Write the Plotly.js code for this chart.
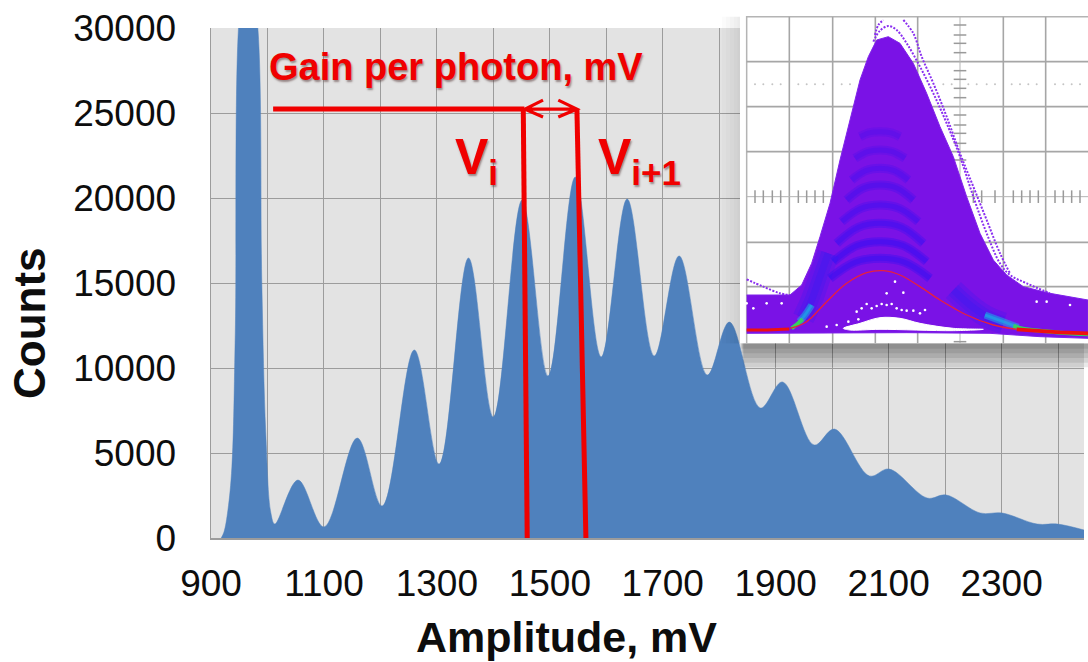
<!DOCTYPE html>
<html><head><meta charset="utf-8">
<script src="https://cdn.plot.ly/plotly-3.0.1.min.js"></script>
<style>html,body{margin:0;padding:0;background:#fff}#c{width:1088px;height:662px}</style>
</head><body><div id="c"></div>
<script>
// Spectrum
const amplitude=[918,923,930,937,943,951,967,983,990,997,1006,1013,1054,1100,1159,1203,1260,1304,1356,1400,1451,1497,1545,1591,1637,1685,1729,1779,1818,1873,1912,1968,2004,2066,2101,2168,2202,2262,2301,2363,2399,2446];
const counts=[0,350,1650,4180,12060,31060,34000,30000,15000,6180,1470,820,3410,650,5880,1880,11060,4350,16470,7120,19880,9530,21230,10650,19940,10710,16590,9590,12700,7650,9180,5470,6410,3650,4060,2350,2530,1470,1470,820,820,470];
// Annotation lines, in mV and counts
const gainLineX=[1010,1455], gainLineY=[25230,25230];
const viLineX=[1453,1460], viLineY=[25230,-100];
const vi1LineX=[1548,1564], vi1LineY=[25230,-100];
const arrowX=[1488,1456,1488,null,1456,1547,null,1515,1548,1515];
const arrowY=[25760,25230,24760,null,25230,25230,null,25760,25230,24760];
// Oscilloscope inset, in screen-grid units
const scopeGridX=[148,278,406,533,790,917], scopeGridY=[185,320,455,727,860,995];
const scopeLeft=20, scopeRight=1044, scopeTop=50, scopeBottom=1030, scopeCx=660, scopeCy=590;
const frameLeft=0, frameTop=18;
const scopeTicksY=[75,105,130,158,212,238,265,293,345,375,400,430,480,1025];
const scopeTicksX=[45,70,97,122,175,200,225,250,305,330,700,725,765,820,845,870,895,945,970,995,1020];
const scopeDotsX=[45,70,97,122,175,200,225,250,305,330,610,635,685,710,740,765,815,840,865,890,945,970,995,1020];
const blobX=[20,100,150,185,215,240,270,300,330,360,385,410,445,480,520,560,600,640,680,720,760,800,850,930,1044,1044,900,750,500,150,20];
const blobY=[885,885,885,855,790,710,610,480,360,240,170,120,110,130,190,280,380,470,590,700,780,825,860,880,900,1015,1010,1000,998,1000,1000];
const outlineAX=[400,420,445,470,500,540,580,620,660,700,740,780,810,860,930];
const outlineAY=[125,92,78,90,130,200,280,370,470,590,700,790,825,850,880];
const outlineBX=[490,520,545,580,620,660,700,740,780,810];
const outlineBY=[60,100,170,250,350,460,560,660,760,820];
const outlineCX=[405,415,430];
const outlineCY=[105,75,60];
const outlineDX=[20,70,120,150];
const outlineDY=[838,860,880,885];
const bandCentreX=[420,420,420,420,420,420,420,420];
const bandPeakY=[395,450,505,555,615,670,725,775];
const bandHalfWidth=[60,75,85,100,115,130,140,150];
const bandDrop=[15,25,35,45,50,60,60,60];
const footLeftX=[190,215,240,265], footLeftY=[955,900,830,760];
const footRightX=[640,690,740,790], footRightY=[870,915,950,970];
const cyanLeftX=[178,195,215], cyanLeftY=[965,945,915];
const cyanRightX=[735,790,835], cyanRightY=[945,965,982];
const greenLeftX=[155,172,188], greenLeftY=[985,972,958];
const greenRightX=[820,860,900,960,1044], greenRightY=[978,988,992,998,1003];
const avgX=[150,200,260,320,380,430,480,540,600,680,760,830];
const avgY=[985,965,905,850,818,812,825,860,900,945,975,988];
const baseRX=[830,900,960,1044], baseRY=[988,993,997,1000];
const baseLX=[20,80,148], baseLY=[990,990,987];
const gapX=[310,360,420,480,540,640,730,640,420,330,310];
const gapY=[985,970,953,955,970,985,988,992,988,990,985];
const specksX=[350,365,380,395,410,425,440,455,470,485,500,520,540,20,40,80,125,890,920,990,440,490,465,555,260,290,325,355];
const specksY=[935,925,912,925,918,912,915,912,925,930,932,932,940,910,925,910,910,905,905,915,880,878,845,930,980,975,965,958];
// Drop shadow growth around the inset
const shadowLeft=[54,42,30,18,8], shadowBottom=[72,58,44,30,16];

const RED='#f00000', AXIS='#9c9c9c', TXT='#0d0d0d';
const FONT='"Liberation Sans", Arial, sans-serif';
const S={xaxis:'x2',yaxis:'y2',hoverinfo:'skip',showlegend:false};
const traces=[{x:amplitude,y:counts,type:'scatter',mode:'lines',fill:'tozeroy',fillcolor:'#4f81bd',
  line:{color:'#4f81bd',width:0.5,shape:'spline',smoothing:1},hoverinfo:'skip',showlegend:false}];
shadowLeft.forEach(d=>traces.push({...S,mode:'lines',fill:'toself',fillcolor:'rgba(0,0,0,0.014)',line:{width:0},
  x:[frameLeft-d,frameLeft,frameLeft,frameLeft-d,frameLeft-d],
  y:[scopeTop,scopeTop,scopeBottom,scopeBottom,scopeTop]}));
shadowBottom.forEach(d=>traces.push({...S,mode:'lines',fill:'toself',fillcolor:'rgba(0,0,0,0.085)',line:{width:0},
  x:[frameLeft+d*0.15,scopeRight,scopeRight,frameLeft+d*0.15,frameLeft+d*0.15],
  y:[scopeBottom,scopeBottom,scopeBottom+d,scopeBottom+d,scopeBottom]}));
traces.push({...S,mode:'lines',fill:'toself',fillcolor:'#ffffff',line:{width:0},
  x:[frameLeft,scopeRight,scopeRight,frameLeft,frameLeft],y:[frameTop,frameTop,scopeBottom,scopeBottom,frameTop]});
traces.push({...S,mode:'lines',line:{color:'#b4b4b4',width:1.5},
  x:[scopeLeft,scopeLeft,scopeRight],y:[scopeBottom,scopeTop,scopeTop]});
const gx=[],gy=[];
scopeGridX.forEach(v=>{gx.push(v,v,null);gy.push(scopeTop,scopeBottom,null)});
scopeGridY.forEach(v=>{gx.push(scopeLeft,scopeRight,null);gy.push(v,v,null)});
traces.push({...S,x:gx,y:gy,mode:'lines',line:{color:'#a6a6a6',width:1.6}});
traces.push({...S,x:[scopeLeft,scopeRight],y:[scopeCy,scopeCy],mode:'lines',line:{color:'#b5b5b5',width:1}});
traces.push({...S,x:[scopeCx,scopeCx],y:[scopeTop,scopeBottom],mode:'lines',line:{color:'#b5b5b5',width:1}});
traces.push({...S,x:scopeTicksY.map(()=>scopeCx),y:scopeTicksY,mode:'markers',marker:{symbol:'line-ew',size:9,line:{color:'#9a9a9a',width:1.5}}});
traces.push({...S,x:scopeTicksX,y:scopeTicksX.map(()=>scopeCy),mode:'markers',marker:{symbol:'line-ns',size:9,line:{color:'#9a9a9a',width:1.5}}});
traces.push({...S,x:scopeDotsX,y:scopeDotsX.map(()=>253),mode:'markers',marker:{size:2,color:'#c4c4c4'}});
const dots={color:'#8a2ff0',width:2,dash:'2px,1.5px',shape:'spline'};
[[outlineAX,outlineAY],[outlineBX,outlineBY],[outlineCX,outlineCY],[outlineDX,outlineDY]].forEach(p=>
  traces.push({...S,x:p[0],y:p[1],mode:'lines',line:dots}));
traces.push({...S,x:blobX,y:blobY,mode:'lines',fill:'toself',fillcolor:'#7a12e6',line:{color:'#7f22ea',width:1}});
bandPeakY.forEach((p,i)=>{const c=bandCentreX[i],h=bandHalfWidth[i],d=bandDrop[i];
  [9,5].forEach(w=>traces.push({...S,x:[c-h,c-h*0.5,c,c+h*0.5,c+h],y:[p+d,p+d*0.2,p,p+d*0.2,p+d],mode:'lines',
    line:{color:'rgba(45,15,245,'+(0.16+0.03*i)+')',width:w,shape:'spline'}}))});
[[footLeftX,footLeftY],[footRightX,footRightY]].forEach(p=>{
  [22,14,7].forEach(w=>traces.push({...S,x:p[0],y:p[1],mode:'lines',line:{color:'rgba(35,30,245,0.2)',width:w,shape:'spline'}}));});
[[cyanLeftX,cyanLeftY],[cyanRightX,cyanRightY]].forEach(p=>{
  [7,3].forEach(w=>traces.push({...S,x:p[0],y:p[1],mode:'lines',line:{color:'rgba(20,190,230,0.5)',width:w,shape:'spline'}}));});
[[greenLeftX,greenLeftY],[greenRightX,greenRightY]].forEach(p=>
  traces.push({...S,x:p[0],y:p[1],mode:'lines',line:{color:'#35d060',width:4,shape:'spline'}}));
traces.push({...S,x:gapX,y:gapY,mode:'lines',fill:'toself',fillcolor:'#ffffff',line:{color:'#ffffff',width:1,shape:'spline'}});
traces.push({...S,x:specksX,y:specksY,mode:'markers',marker:{size:2.6,color:'#ffffff'}});
traces.push({...S,x:avgX,y:avgY,mode:'lines',line:{color:'#e8203c',width:1.3,shape:'spline'}});
traces.push({...S,x:baseLX,y:baseLY,mode:'lines',line:{color:'#ee1010',width:3.2}});
traces.push({...S,x:baseRX,y:baseRY,mode:'lines',line:{color:'#ee1010',width:3.6}});

const W=1088,H=662;
const redLine=(xs,ys)=>({type:'path',xref:'x',yref:'y',layer:'above',line:{color:RED,width:5},
  path:xs.map((v,i)=>v===null?'':((i===0||xs[i-1]===null?'M':'L')+v+' '+ys[i])).join(' ')});
const note=(t,px,py,size)=>({text:t,xref:'paper',yref:'paper',x:px/W,y:1-py/H,xanchor:'left',yanchor:'middle',showarrow:false,
  font:{family:FONT,size:size,color:RED,weight:700,shadow:'1px 2px 2px rgba(90,60,60,0.55)'}});
const axisTitle=(t,px,py,size,angle)=>({text:t,xref:'paper',yref:'paper',x:px/W,y:1-py/H,xanchor:'center',yanchor:'middle',showarrow:false,textangle:angle,borderpad:0,
  font:{family:FONT,size:size,color:TXT,weight:700}});
const layout={width:W,height:H,margin:{l:0,r:0,t:0,b:0},paper_bgcolor:'#fff',plot_bgcolor:'rgba(0,0,0,0)',showlegend:false,hovermode:false,
  font:{family:FONT,color:TXT},
  xaxis:{domain:[211/W,1084/W],range:[900,2446],tick0:900,dtick:200,anchor:'y',ticks:'outside',ticklen:12,tickcolor:'rgba(0,0,0,0)',
    tickfont:{size:37,color:TXT},showgrid:true,gridcolor:AXIS,gridwidth:1,showline:true,linecolor:AXIS,linewidth:1.5,zeroline:false,
    minor:{dtick:100,showgrid:true,gridcolor:AXIS,gridwidth:1,ticks:''}},
  yaxis:{domain:[(H-538)/H,(H-28)/H],range:[0,30000],dtick:5000,tickformat:'d',anchor:'x',ticks:'outside',ticklen:26,tickcolor:'rgba(0,0,0,0)',
    tickfont:{size:37,color:TXT},showgrid:true,gridcolor:AXIS,gridwidth:1,showline:true,linecolor:AXIS,linewidth:1.5,zeroline:false},
  xaxis2:{domain:[715/W,1],range:[-75,1044],anchor:'y2',visible:false,fixedrange:true},
  yaxis2:{domain:[(H-368)/H,(H-6)/H],range:[1104,18],anchor:'x2',visible:false,fixedrange:true},
  shapes:[{type:'rect',xref:'x domain',yref:'y domain',x0:0,x1:1,y0:0,y1:1,layer:'below',fillcolor:'#e3e3e3',line:{width:0}},
    redLine(gainLineX,gainLineY),redLine(viLineX,viLineY),redLine(vi1LineX,vi1LineY),
    {...redLine(arrowX,arrowY),line:{color:RED,width:3.2}}],
  annotations:[note('Gain per photon, mV',267,67,38),note('V<sub>i</sub>',453,160,50),note('V<sub>i+1</sub>',596,160,50),
    axisTitle('Amplitude, mV',566,637,43,0),axisTitle('Counts',29,323,44,-90)]};
Plotly.newPlot('c',traces,layout,{displayModeBar:false,staticPlot:true});
</script></body></html>
